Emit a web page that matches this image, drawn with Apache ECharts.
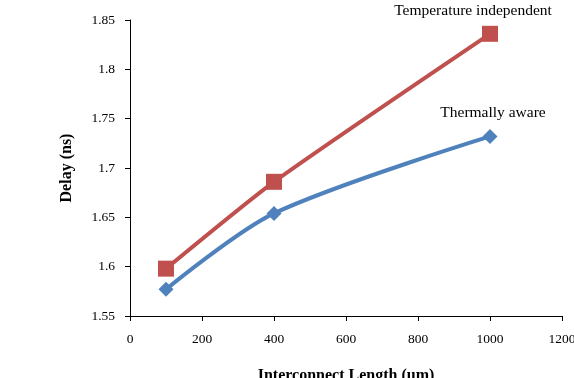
<!DOCTYPE html>
<html>
<head>
<meta charset="utf-8">
<script src="https://cdn.jsdelivr.net/npm/echarts@6/dist/echarts.min.js"></script>
<style>
  html, body { margin: 0; padding: 0; background: #fff; }
  #chart { width: 574px; height: 378px; }
</style>
</head>
<body>
<div id="chart"></div>
<script>
const lengths = [100, 400, 1000]
const tempIndependent = [1.598, 1.686, 1.836]
const thermallyAware = [1.577, 1.654, 1.732]
const seriesNames = ['Temperature independent', 'Thermally aware']

const font = 'Liberation Serif, Times New Roman, serif'

const chart = echarts.init(document.getElementById('chart'))

function pairs(xs, ys) {
  return xs.map((x, i) => [x, ys[i]])
}

function endLabel(name, offset) {
  return {
    show: true,
    position: 'top',
    offset: offset,
    formatter: (p) => p.dataIndex === lengths.length - 1 ? name : '',
    fontFamily: font,
    fontSize: 15.5,
    color: '#000'
  }
}

chart.setOption({
  animation: false,
  grid: { left: 130, right: 12, top: 20, bottom: 62, outerBoundsMode: 'none', containLabel: false },
  xAxis: {
    type: 'value',
    min: 0,
    max: 1200,
    interval: 200,
    name: 'Interconnect Length (um)',
    nameLocation: 'middle',
    nameGap: 52,
    nameTextStyle: { fontFamily: font, fontSize: 16, fontWeight: 'bold', color: '#000' },
    axisLine: { lineStyle: { color: '#000', width: 1 } },
    axisTick: { show: true, length: 5, lineStyle: { color: '#000' } },
    axisLabel: { fontFamily: font, fontSize: 13.5, color: '#000', margin: 16, formatter: (v) => String(v) },
    splitLine: { show: false }
  },
  yAxis: {
    type: 'value',
    min: 1.55,
    max: 1.85,
    interval: 0.05,
    name: 'Delay (ns)',
    nameLocation: 'middle',
    nameGap: 55,
    nameRotate: 90,
    nameTextStyle: { fontFamily: font, fontSize: 16, fontWeight: 'bold', color: '#000' },
    axisLine: { show: true, lineStyle: { color: '#000', width: 1 } },
    axisTick: { show: true, length: 5, lineStyle: { color: '#000' } },
    axisLabel: { fontFamily: font, fontSize: 13.5, color: '#000', margin: 15, formatter: (v) => String(+v.toFixed(2)) },
    splitLine: { show: false }
  },
  series: [
    {
      name: seriesNames[0],
      type: 'line',
      smooth: 0.2,
      data: pairs(lengths, tempIndependent),
      symbol: 'rect',
      symbolSize: 16,
      lineStyle: { color: '#c0504d', width: 4 },
      itemStyle: { color: '#c0504d' },
      label: endLabel(seriesNames[0], [-17, -2])
    },
    {
      name: seriesNames[1],
      type: 'line',
      smooth: 0.3,
      data: pairs(lengths, thermallyAware),
      symbol: 'diamond',
      symbolSize: 15,
      lineStyle: { color: '#4f81bd', width: 4 },
      itemStyle: { color: '#4f81bd' },
      label: endLabel(seriesNames[1], [3, -3])
    }
  ]
})
</script>
</body>
</html>
